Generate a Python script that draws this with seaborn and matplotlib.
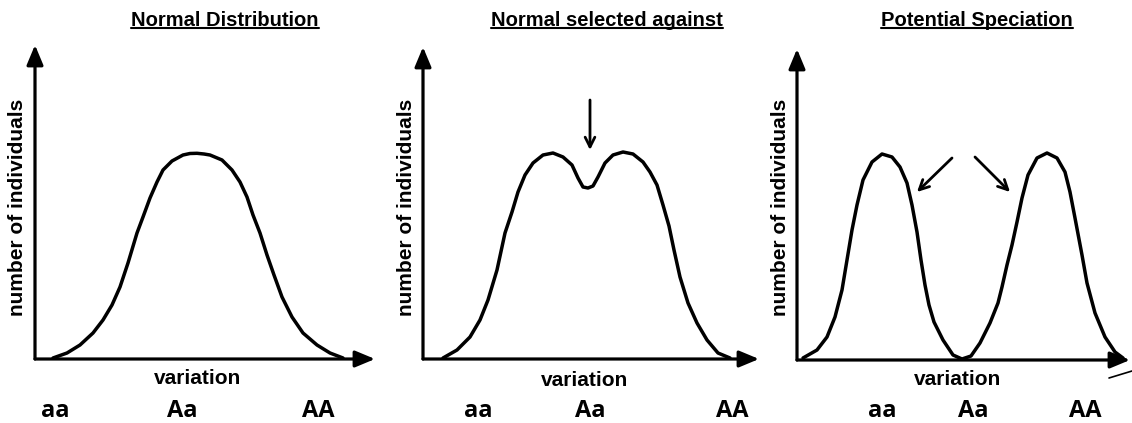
import matplotlib
matplotlib.use('Agg')
import matplotlib.pyplot as plt
import seaborn as sns
import pandas as pd
from matplotlib.lines import Line2D

titles = ['Normal Distribution', 'Normal selected against', 'Potential Speciation']
genotypes = ['aa', 'Aa', 'AA']

# curves: variation vs number of individuals
normal_x = [18, 32, 45, 58, 68, 77, 85, 93, 102, 108, 115, 122, 128, 137, 148, 155,
            162, 169, 175, 187, 197, 205, 212, 218, 225, 232, 239, 247, 257, 268,
            282, 295, 308]
normal_y = [1, 6, 14, 26, 39, 54, 72, 96, 126, 142, 161, 177, 189, 198, 204, 205.5,
            205.7, 205, 204, 199, 189, 177, 162, 144, 126, 104, 84, 62, 42, 26,
            14, 6, 1]

selected_x = [20, 34, 47, 57, 65, 74, 82, 89, 95, 102, 110, 120, 130, 140, 149, 155,
              160, 165, 170, 175, 182, 190, 200, 210, 220, 227, 234, 240, 246, 251,
              257, 265, 274, 284, 295, 307]
selected_y = [1, 9, 22, 39, 59, 89, 126, 147, 167, 184, 196, 204, 206, 202, 194, 181,
              172, 171, 173, 182, 196, 204, 207, 205, 197, 187, 174, 154, 133, 109,
              82, 56, 36, 19, 6, 1]

speciation_x = [6, 20, 30, 38, 45, 50, 55, 60, 66, 75, 85, 95, 103, 110, 115, 120,
                124, 128, 132, 137, 146, 156, 165, 174, 183, 193, 201, 205, 210, 215,
                220, 225, 231, 240, 250, 260, 268, 273, 278, 285, 290, 298, 308, 318,
                326]
speciation_y = [2, 10, 23, 43, 70, 100, 130, 155, 180, 198, 206, 203, 193, 177, 155,
                128, 100, 75, 55, 38, 20, 5, 1, 4, 17, 37, 57, 73, 95, 115, 138, 162,
                185, 202, 207, 202, 188, 168, 142, 105, 77, 47, 23, 8, 2]

# pointer arrows (start, end) in the same units
selected_arrows = [((167, 259), (167, 209))]
speciation_arrows = [((155, 202), (120, 168)), ((178, 203), (213, 168))]

curves = [(normal_x, normal_y), (selected_x, selected_y), (speciation_x, speciation_y)]
arrows = [[], selected_arrows, speciation_arrows]

W, H = 1132, 423
# axes box in pixels: left, baseline, x length, y length
panels = [(35, 359, 340, 314), (423, 359, 336, 312), (797, 360, 333, 311)]
title_x = [225, 607, 977]
ylabel_x = [18, 407, 781]
xlabel_pos = [(198, 378), (585, 380), (958, 379)]
geno_x = [[55, 182, 318], [478, 590, 732], [882, 973, 1085]]
geno_y = 411

sns.set_style('white')
plt.rcParams['text.color'] = 'black'
fig = plt.figure(figsize=(W / 100, H / 100), dpi=100)

def fx(px):
    return px / W

def fy(py):
    return 1 - py / H

title_texts = []
for i, (l, b, w, h) in enumerate(panels):
    ax = fig.add_axes([fx(l), fy(b), w / W, h / H])
    cx, cy = curves[i]
    df = pd.DataFrame({'variation': cx, 'individuals': cy})
    sns.lineplot(data=df, x='variation', y='individuals', ax=ax, color='black',
                 lw=2.5, sort=False, solid_joinstyle='round', solid_capstyle='round')
    ax.set_xlim(0, w)
    ax.set_ylim(0, h)
    ax.axis('off')

    # axis arrows
    for tip in [(0, 1), (1, 0)]:
        ax.annotate('', xy=tip, xytext=(0, 0), xycoords='axes fraction',
                    arrowprops=dict(arrowstyle='-|>,head_length=0.6,head_width=0.25',
                                    mutation_scale=20, lw=2.3, color='black',
                                    shrinkA=0, shrinkB=0), annotation_clip=False)

    for start, end in arrows[i]:
        ax.annotate('', xy=end, xytext=start,
                    arrowprops=dict(arrowstyle='->,head_length=0.5,head_width=0.25',
                                    mutation_scale=14, lw=2, color='black',
                                    shrinkA=0, shrinkB=0))

    t = fig.text(fx(title_x[i]), fy(20), titles[i], ha='center', va='center',
                 fontsize=14.5, fontweight='bold', family='Liberation Sans')
    title_texts.append(t)
    fig.text(fx(ylabel_x[i]), fy(207), 'number of individuals', rotation=90,
             ha='center', va='center', fontsize=15, fontweight='bold',
             family='Liberation Sans')
    fig.text(fx(xlabel_pos[i][0]), fy(xlabel_pos[i][1]), 'variation', ha='center',
             va='center', fontsize=15, fontweight='bold', family='Liberation Sans')
    for g, gx in zip(genotypes, geno_x[i]):
        fig.text(fx(gx), fy(geno_y), g, ha='center', va='center', fontsize=17,
                 fontweight='bold', family='Open Sans')

# underline the titles
fig.canvas.draw()
inv = fig.transFigure.inverted()
for t in title_texts:
    bb = t.get_window_extent()
    (x0, y0), (x1, _) = inv.transform([(bb.x0, bb.y0 + 1), (bb.x1, bb.y1)])
    fig.add_artist(Line2D([x0, x1], [y0, y0], color='black', lw=1.5,
                          transform=fig.transFigure))

# stray pen mark at the bottom right of the scan
fig.add_artist(Line2D([fx(1109), fx(1132)], [fy(378), fy(371)], color='black', lw=1.2,
                      transform=fig.transFigure))

fig.savefig('out.png', dpi=100)
